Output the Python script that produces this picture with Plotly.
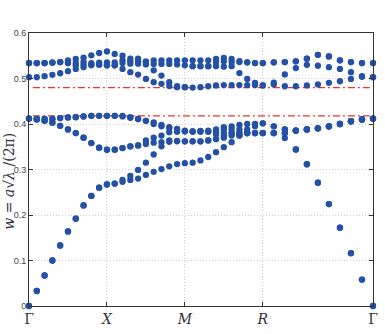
import numpy as np
import plotly.graph_objects as go

# high-symmetry path (segment lengths in units of pi/a) and labels
seg_lengths = [1.0, 1.0, 1.0, np.sqrt(2.0)]
points_per_seg = 10
tick_labels = ["Γ", "<i>X</i>", "<i>M</i>", "<i>R</i>", "Γ"]

# bands (normalised frequency), 41 k-points along Γ-X-M-R-Γ
A = [0, .033, .067, .100, .133, .164, .192, .221, .242, .260, .267,
     .269, .273, .277, .280, .288, .295, .301, .307, .312, .314,
     .315, .320, .3275, .338, .349, .360, .3746, .380, .380, .380,
     .380, .369, .344, .3115, .271, .224, .172, .116, .058, 0]
A2 = [0, .033, .067, .100, .133, .164, .192, .221, .242, .260, .267,
      .269, .277, .286, .299, .315, .333, .351, .361, .362, .362,
      .362, .362, .364, .367, .370, .3746, .3746, .380, .380, .380,
      .380, .380, .344, .3115, .271, .224, .172, .116, .058, 0]
B = [.412, .410, .407, .403, .396, .388, .380, .370, .358, .348, .3435,
     .3435, .347, .351, .353, .356, .359, .360, .364, .363, .362,
     .362, .362, .364, .367, .3746, .380, .380, .380, .380, .380,
     .380, .380, .3855, .388, .3906, .395, .400, .406, .410, .412]
C = [.412, .410, .407, .403, .396, .388, .380, .370, .358, .348, .3435,
     .3435, .347, .351, .353, .364, .370, .3746, .382, .383, .384,
     .383, .383, .383, .378, .380, .380, .380, .380, .380, .380,
     .380, .380, .3855, .388, .3906, .395, .400, .406, .410, .412]
L1 = [.412, .411, .411, .411, .413, .4145, .415, .4167, .418, .418, .418,
      .418, .4167, .4137, .411, .407, .4036, .398, .393, .389, .384,
      .384, .384, .384, .383, .388, .388, .388, .388, .395, .4015,
      .395, .388, .3855, .388, .3906, .395, .400, .406, .410, .412]
L2 = [.412, .411, .411, .411, .413, .4145, .415, .4167, .418, .418, .418,
      .418, .418, .415, .411, .407, .400, .395, .391, .3877, .3855,
      .384, .385, .3855, .388, .393, .395, .398, .400, .400, .4015,
      .395, .388, .3855, .388, .3906, .395, .400, .406, .410, .412]
U1 = [.503, .503, .505, .508, .5115, .516, .521, .525, .529, .530, .529,
      .529, .521, .5138, .5087, .499, .492, .4884, .4833, .481, .481,
      .480, .481, .483, .4848, .4855, .4855, .4855, .4855, .4855, .4848,
      .487, .483, .483, .4848, .487, .4906, .494, .499, .5036, .503]
U2 = [.534, .534, .534, .535, .536, .534, .529, .531, .531, .531, .529,
      .529, .534, .5326, .5326, .531, .518, .5065, .492, .4833, .481,
      .527, .527, .527, .527, .526, .527, .512, .499, .4906, .4848,
      .491, .509, .523, .530, .528, .525, .521, .514, .505, .503]
U3 = [.534, .534, .534, .535, .536, .534, .534, .537, .534, .535, .5355,
      .5355, .540, .5377, .5377, .537, .532, .532, .532, .531, .529,
      .527, .527, .527, .536, .5377, .536, .536, .5355, .534, .534,
      .5355, .536, .5377, .5435, .552, .5486, .540, .536, .534, .534]
U4 = [.534, .534, .534, .535, .536, .540, .543, .546, .551, .556, .5594,
      .554, .550, .5435, .5435, .537, .540, .540, .540, .540, .540,
      .540, .540, .540, .543, .545, .543, .538, .5355, .534, .534,
      .5355, .536, .5377, .5435, .552, .5486, .540, .536, .534, .534]
bands = [A, A2, B, C, L1, L2, U1, U2, U3, U4]

# gap edges (red dash-dot lines)
gap_edges = [0.418, 0.480]

# k-path coordinate
edges = np.concatenate([[0.0], np.cumsum(seg_lengths)])
kx = [edges[0]]
for s in range(len(seg_lengths)):
    kx.extend(np.linspace(edges[s], edges[s + 1], points_per_seg + 1)[1:])
kx = np.array(kx)

dot_color = "#2450a6"
fig = go.Figure()
for b in bands:
    fig.add_trace(go.Scatter(
        x=kx, y=b, mode="markers",
        marker=dict(color=dot_color, size=6.3, line=dict(width=0)),
        cliponaxis=False, showlegend=False, hoverinfo="skip"))

for g in gap_edges:
    fig.add_shape(type="line", xref="x", yref="y",
                  x0=0.05, x1=edges[-1], y0=g, y1=g,
                  line=dict(color="#e8362a", width=1.3, dash="7px,3px,2px,3px"),
                  layer="below")

axis_common = dict(showline=True, linecolor="#333333", linewidth=1, mirror="ticks",
                   ticks="inside", ticklen=4, tickcolor="#333333",
                   showgrid=True, gridcolor="#cfcfcf", griddash="1px,2px", gridwidth=1,
                   zeroline=False)

fig.update_xaxes(range=[0, edges[-1]], tickvals=edges, ticktext=tick_labels,
                 tickfont=dict(family="DejaVu Serif", size=14, color="#333333"),
                 **axis_common)
fig.update_yaxes(range=[0, 0.6], tickvals=[0, 0.1, 0.2, 0.3, 0.4, 0.5, 0.6],
                 ticktext=["0", "0.1", "0.2", "0.3", "0.4", "0.5", "0.6"],
                 tickfont=dict(family="Liberation Sans", size=9, color="#444444"),
                 **axis_common)

fig.add_annotation(text="<i>w</i> = <i>a</i>√<i>λ</i> /(2π)", textangle=-90,
                   xref="paper", yref="paper", x=0, y=0.455, xshift=-20,
                   xanchor="center", yanchor="middle",
                   showarrow=False,
                   font=dict(family="DejaVu Serif", size=14, color="#333333"))

fig.update_layout(width=385, height=334,
                  margin=dict(l=29, r=7, t=33, b=25),
                  paper_bgcolor="white", plot_bgcolor="white")

fig.write_html("out.html")
